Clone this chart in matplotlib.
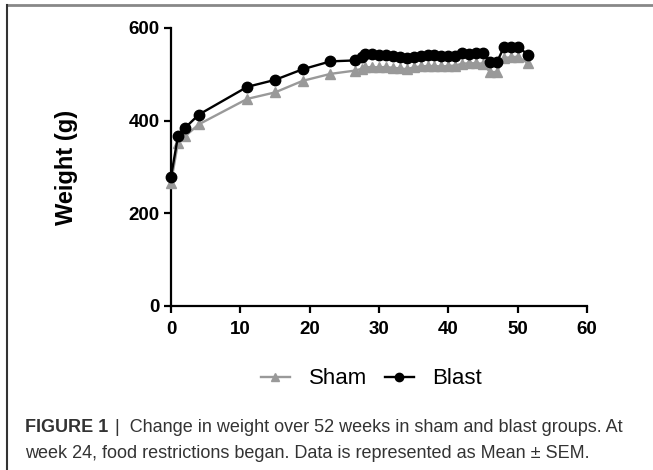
import matplotlib.pyplot as plt
from matplotlib.lines import Line2D

plt.rcParams['font.family'] = ['Liberation Sans', 'DejaVu Sans']

# weeks of measurement
weeks = [0, 1, 2, 4, 11, 15, 19, 23, 26.5, 27.5, 28, 29, 30, 31, 32, 33, 34,
         35, 36, 37, 38, 39, 40, 41, 42, 43, 44, 45, 46, 47, 48, 49, 50, 51.5]

sham = [266, 352, 366, 392, 447, 461, 486, 501, 508, 512, 515, 516, 515, 516,
        514, 513, 511, 515, 517, 518, 518, 517, 518, 519, 523, 524, 524, 523,
        505, 505, 535, 537, 538, 524]

blast = [279, 366, 384, 413, 473, 488, 511, 528, 530, 538, 543, 544, 542, 542,
         540, 538, 536, 537, 540, 541, 541, 539, 540, 540, 546, 544, 546, 547,
         526, 526, 558, 560, 560, 542]

caption_1 = 'Change in weight over 52 weeks in sham and blast groups. At'
caption_2 = 'week 24, food restrictions began. Data is represented as Mean \u00b1 SEM.'


def main():
    fig = plt.figure(figsize=(6.53, 4.70), dpi=100)
    ax = fig.add_axes([171 / 653, 1 - 306 / 470, 416 / 653, 278 / 470])

    ax.plot(weeks, sham, color='#999999', lw=1.7, marker='^', ms=7.5,
            label='Sham', clip_on=False, zorder=3)
    ax.plot(weeks, blast, color='black', lw=1.7, marker='o', ms=7.5,
            label='Blast', clip_on=False, zorder=4)

    ax.set_xlim(0, 60)
    ax.set_ylim(0, 600)
    ax.set_xticks(range(0, 61, 10))
    ax.set_yticks(range(0, 601, 200))
    for s in ['top', 'right']:
        ax.spines[s].set_visible(False)
    for s in ['left', 'bottom']:
        ax.spines[s].set_linewidth(1.6)
    ax.tick_params(axis='both', length=5, width=1.6, labelsize=13.5)
    ax.tick_params(axis='x', pad=6)
    ax.tick_params(axis='y', pad=3)
    for lab in ax.get_xticklabels() + ax.get_yticklabels():
        lab.set_fontweight('bold')
    ax.set_ylabel('Weight (g)', fontsize=17, fontweight='bold')
    ax.yaxis.set_label_coords(-0.224, 0.5)

    fig.legend(loc='center', bbox_to_anchor=(371.5 / 653, 0.194), ncol=2,
               frameon=False, fontsize=16, handlelength=1.3,
               handletextpad=0.85, columnspacing=0.8, markerscale=0.8)

    # frame around the figure panel
    fig.add_artist(Line2D([8 / 653, 1], [1 - 5 / 470] * 2, color='#888888',
                          lw=2, transform=fig.transFigure))
    fig.add_artist(Line2D([7 / 653] * 2, [0, 1 - 5 / 470], color='#333333',
                          lw=1.5, transform=fig.transFigure))

    fig.text(25 / 653, 1 - 432 / 470, 'FIGURE 1', fontsize=13,
             fontweight='bold', color='#333333')
    fig.text(115 / 653, 1 - 432 / 470, '|  ' + caption_1, fontsize=13,
             color='#333333')
    fig.text(25 / 653, 1 - 458 / 470, caption_2, fontsize=13,
             color='#333333')

    fig.savefig('out.png', dpi=100)


if __name__ == '__main__':
    main()
